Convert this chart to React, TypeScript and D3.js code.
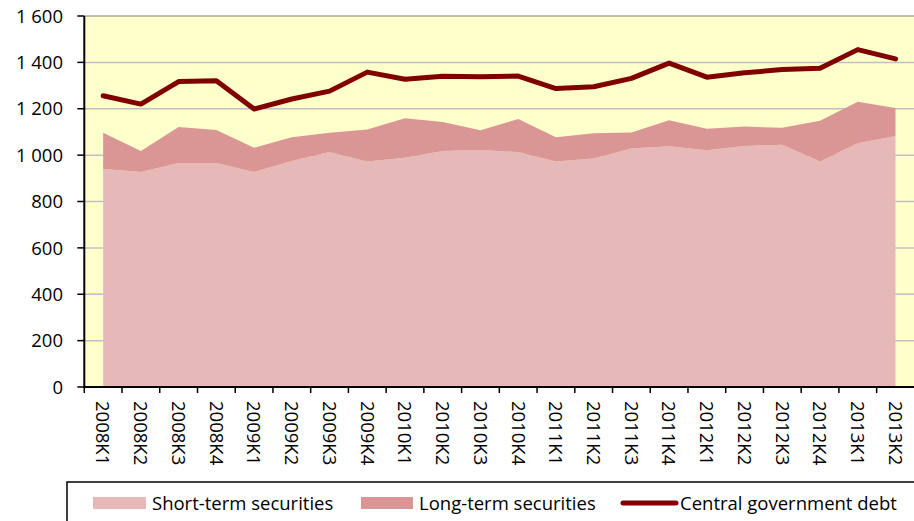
import React from "react";
import * as d3 from "d3";

const categories = [
  "2008K1", "2008K2", "2008K3", "2008K4",
  "2009K1", "2009K2", "2009K3", "2009K4",
  "2010K1", "2010K2", "2010K3", "2010K4",
  "2011K1", "2011K2", "2011K3", "2011K4",
  "2012K1", "2012K2", "2012K3", "2012K4",
  "2013K1", "2013K2",
];

const shortTerm = [
  940, 927, 966, 966, 927, 975, 1013, 972, 989, 1018, 1022, 1013,
  972, 985, 1029, 1038, 1021, 1039, 1045, 973, 1051, 1082,
];

// totals (short + long), read from the top of the stacked area
const totalSecurities = [
  1097, 1018, 1121, 1108, 1032, 1077, 1097, 1110, 1159, 1143, 1107, 1156,
  1077, 1094, 1098, 1150, 1114, 1123, 1118, 1148, 1230, 1203,
];
const longTerm = totalSecurities.map((t, i) => t - shortTerm[i]);

const centralDebt = [
  1256, 1220, 1317, 1321, 1199, 1242, 1276, 1358, 1327, 1340, 1338, 1341,
  1287, 1295, 1331, 1397, 1336, 1355, 1369, 1375, 1455, 1415,
];

const yTicks = [0, 200, 400, 600, 800, 1000, 1200, 1400, 1600];

const fmt = (v: number) => {
  const s = String(v);
  return s.length > 3 ? s.slice(0, s.length - 3) + " " + s.slice(-3) : s;
};

export default function App() {
  const W = 914;
  const H = 521;
  const left = 84.3;
  const bw = 37.73;
  const top = 16;
  const bottom = 387;

  const x = d3.scaleBand<string>().domain(categories).range([left, left + bw * categories.length]).paddingInner(0).paddingOuter(0);
  const y = d3.scaleLinear().domain([0, 1600]).range([bottom, top]);
  const cx = (c: string) => (x(c) as number) + x.bandwidth() / 2;

  const stacked = categories.map((c, i) => ({ c, s: shortTerm[i], l: longTerm[i], d: centralDebt[i] }));

  const areaShort = d3.area<any>().x((d) => cx(d.c)).y0(y(0)).y1((d) => y(d.s));
  const areaLong = d3.area<any>().x((d) => cx(d.c)).y0((d) => y(d.s)).y1((d) => y(d.s + d.l));
  const line = d3.line<any>().x((d) => cx(d.c)).y((d) => y(d.d));

  const font = "'Open Sans', sans-serif";
  const plotRight = left + bw * categories.length;
  const fs = 18.5;

  return (
    <div style={{ position: "fixed", left: 0, top: 0 }}>
      <svg width={W} height={H} style={{ display: "block", background: "#fff" }} fontFamily={font}>
        <rect x={left} y={top} width={plotRight - left} height={bottom - top} fill="#FFFFCC" />
        {yTicks.filter((t) => t > 0).map((t) => (
          <line key={t} x1={left} x2={plotRight} y1={y(t)} y2={y(t)} stroke={t === 1600 ? "#7f7f7f" : "#c0c0c0"} strokeWidth={t === 1600 ? 1.2 : 1.5} />
        ))}
        <path d={areaShort(stacked) as string} fill="#E6B8B7" />
        <path d={areaLong(stacked) as string} fill="#DA9694" />
        <path d={line(stacked) as string} fill="none" stroke="#800000" strokeWidth={5} strokeLinejoin="round" strokeLinecap="round" />

        {/* axes */}
        <line x1={left} x2={left} y1={top} y2={bottom + 1} stroke="#000" strokeWidth={2} />
        <line x1={left - 1} x2={plotRight} y1={bottom} y2={bottom} stroke="#000" strokeWidth={2} />
        {yTicks.map((t) => (
          <g key={t}>
            <line x1={left - 7} x2={left} y1={y(t)} y2={y(t)} stroke="#000" strokeWidth={1.5} />
            <text x={63} y={y(t)} dy="0.36em" textAnchor="end" fontSize={fs} fill="#000">{fmt(t)}</text>
          </g>
        ))}
        {categories.map((c) => (
          <line key={"t" + c} x1={(x(c) as number)} x2={(x(c) as number)} y1={bottom} y2={bottom + 6} stroke="#000" strokeWidth={1.5} />
        ))}
        {categories.map((c) => (
          <text key={"l" + c} transform={`translate(${cx(c)},${401}) rotate(90)`} dy="0.36em" fontSize={fs} fill="#000">{c}</text>
        ))}

        {/* legend */}
        <rect x={67} y={482} width={900} height={60} fill="#fff" stroke="#000" strokeWidth={1.5} />
        <rect x={93} y={497} width={53} height={12} fill="#E6B8B7" />
        <text x={152} y={503} dy="0.36em" fontSize={fs}>Short-term securities</text>
        <rect x={361} y={497} width={52} height={12} fill="#DA9694" />
        <text x={419} y={503} dy="0.36em" fontSize={fs}>Long-term securities</text>
        <line x1={623} x2={676} y1={503} y2={503} stroke="#800000" strokeWidth={5} strokeLinecap="round" />
        <text x={680} y={503} dy="0.36em" fontSize={fs}>Central government debt</text>
      </svg>
    </div>
  );
}
